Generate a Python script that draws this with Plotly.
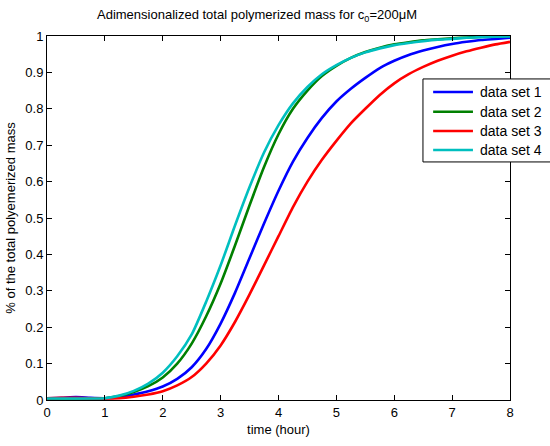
import plotly.graph_objects as go

time_h = [i * 0.25 for i in range(33)]

set1 = [0.005, 0.006, 0.008, 0.006, 0.005, 0.008, 0.015, 0.024, 0.037, 0.058, 0.09,
        0.14, 0.21, 0.295, 0.39, 0.485, 0.575, 0.655, 0.72, 0.775, 0.82, 0.855,
        0.885, 0.912, 0.932, 0.948, 0.96, 0.97, 0.978, 0.984, 0.989, 0.992, 0.995]
set2 = [0.004, 0.004, 0.004, 0.004, 0.005, 0.011, 0.022, 0.038, 0.062, 0.1, 0.155,
        0.23, 0.32, 0.425, 0.535, 0.64, 0.73, 0.80, 0.85, 0.89, 0.918, 0.94,
        0.956, 0.968, 0.977, 0.983, 0.988, 0.991, 0.994, 0.996, 0.998, 0.999, 1.0]
set3 = [0.005, 0.006, 0.006, 0.005, 0.004, 0.005, 0.009, 0.015, 0.024, 0.04, 0.063,
        0.1, 0.15, 0.215, 0.29, 0.37, 0.45, 0.53, 0.6, 0.66, 0.712, 0.76,
        0.8, 0.838, 0.87, 0.895, 0.915, 0.932, 0.946, 0.958, 0.968, 0.977, 0.984]
set4 = [0.004, 0.004, 0.004, 0.004, 0.005, 0.012, 0.025, 0.045, 0.075, 0.12, 0.18,
        0.27, 0.37, 0.48, 0.585, 0.68, 0.755, 0.815, 0.86, 0.895, 0.92, 0.94,
        0.955, 0.966, 0.975, 0.981, 0.986, 0.99, 0.992, 0.995, 0.997, 0.998, 0.999]

names = ["data set 1", "data set 2", "data set 3", "data set 4"]
colors = ["#0000FF", "#008000", "#FF0000", "#00BFBF"]
series = [set1, set2, set3, set4]

x_ticks = [0, 1, 2, 3, 4, 5, 6, 7, 8]
y_ticks = [0, 0.1, 0.2, 0.3, 0.4, 0.5, 0.6, 0.7, 0.8, 0.9, 1]
y_tick_labels = ["0", "0.1", "0.2", "0.3", "0.4", "0.5", "0.6", "0.7", "0.8", "0.9", "1"]

font = "Liberation Sans, Arial, sans-serif"

fig = go.Figure()
for nm, col, ys in zip(names, colors, series):
    fig.add_trace(go.Scatter(x=time_h, y=ys, mode="lines", name=nm, showlegend=False,
                             line=dict(color=col, width=2.6, shape="spline", smoothing=0.6)))

# custom MATLAB-style legend box (paper coordinates)
leg_x0, leg_x1 = 0.812, 1.12
leg_y0, leg_y1 = 0.654, 0.882
item_y = [0.846, 0.792, 0.739, 0.687]
shapes = [dict(type="rect", xref="paper", yref="paper", x0=leg_x0, x1=leg_x1,
               y0=leg_y0, y1=leg_y1, line=dict(color="black", width=1),
               fillcolor="white", layer="above")]
annotations = []
for nm, col, yy in zip(names, colors, item_y):
    shapes.append(dict(type="line", xref="paper", yref="paper", x0=0.834, x1=0.920,
                       y0=yy, y1=yy, line=dict(color=col, width=2.6), layer="above"))
    annotations.append(dict(xref="paper", yref="paper", x=0.931, y=yy, text=nm,
                            showarrow=False, xanchor="left", yanchor="middle",
                            font=dict(family=font, size=14, color="black")))

fig.update_layout(
    width=550, height=446,
    margin=dict(l=47, r=40, t=36, b=46),
    paper_bgcolor="white", plot_bgcolor="white",
    font=dict(family=font, size=13, color="black"),
    title=dict(text="Adimensionalized total polymerized mass for c<sub>0</sub>=200μM",
               xref="paper", x=0.4536, xanchor="center", y=0.968, yanchor="middle",
               font=dict(family=font, size=13, color="black")),
    shapes=shapes,
    annotations=annotations,
    xaxis=dict(range=[0, 8], tickvals=x_ticks, ticktext=[str(v) for v in x_ticks],
               ticks="inside", ticklen=5, tickcolor="black", showline=True,
               linecolor="black", linewidth=1, mirror="ticks", showgrid=False,
               zeroline=False, automargin=False,
               title=dict(text="time (hour)", standoff=6, font=dict(family=font, size=13)),
               tickfont=dict(family=font, size=13)),
    yaxis=dict(range=[0, 1], tickvals=y_ticks, ticktext=y_tick_labels,
               ticks="inside", ticklen=5, tickcolor="black", showline=True,
               linecolor="black", linewidth=1, mirror="ticks", showgrid=False,
               zeroline=False, automargin=False,
               title=dict(text="% of the total polyemerized mass", standoff=6,
                          font=dict(family=font, size=13)),
               tickfont=dict(family=font, size=13)),
)

fig.write_html("out.html")
